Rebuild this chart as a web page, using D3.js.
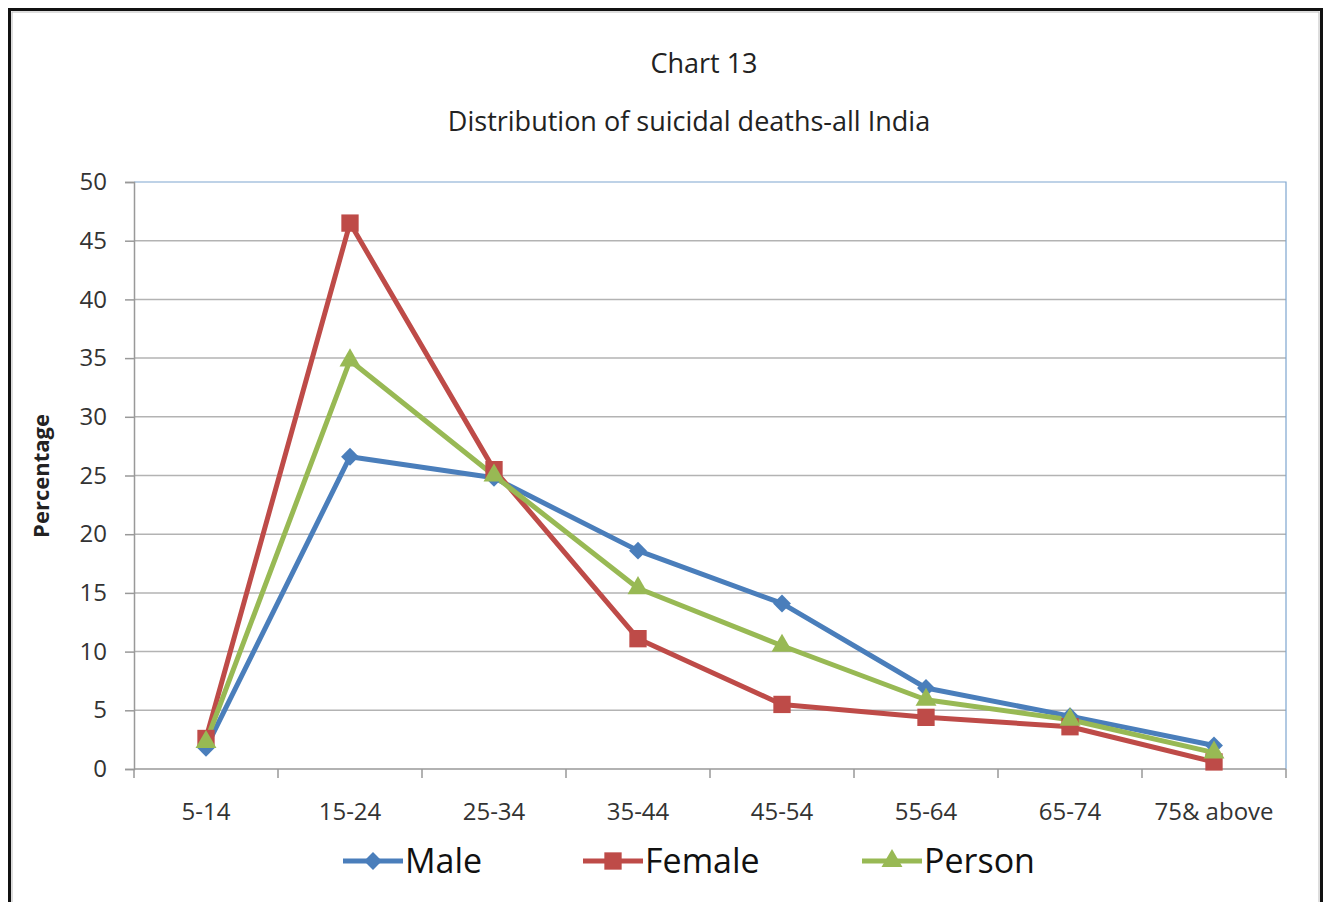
<!DOCTYPE html>
<html>
<head>
<meta charset="utf-8">
<script src="https://cdn.jsdelivr.net/npm/d3@7"></script>
<style>
  body { margin: 0; background: #fff; }
  svg { display: block; font-family: "Open Sans", sans-serif; }
</style>
</head>
<body>
<svg id="chart"></svg>
<script>
var categories = ["5-14", "15-24", "25-34", "35-44", "45-54", "55-64", "65-74", "75& above"];
var male   = [1.8, 26.6, 24.8, 18.6, 14.1, 6.9, 4.5, 2.0];
var female = [2.6, 46.5, 25.5, 11.1, 5.5, 4.4, 3.6, 0.6];
var person = [2.3, 34.8, 25.0, 15.4, 10.5, 5.9, 4.2, 1.4];
var yTicks = [0, 5, 10, 15, 20, 25, 30, 35, 40, 45, 50];

// diamond = square turned 45 degrees
var series = [
  { name: "Male",   values: male,   color: "#4a7ebb", symbol: d3.symbolSquare,   size: 160, rot: 45 },
  { name: "Female", values: female, color: "#be4b48", symbol: d3.symbolSquare,   size: 300, rot: 0 },
  { name: "Person", values: person, color: "#98b954", symbol: d3.symbolTriangle, size: 190, rot: 0 }
];

var W = 1325, H = 902;
var m = { left: 134, right: 39, top: 182, bottom: 133 };

var svg = d3.select("svg#chart").attr("width", W).attr("height", H);

// outer frame
svg.append("rect")
  .attr("x", 9.5).attr("y", 9.5).attr("width", 1312).attr("height", 900)
  .attr("fill", "none").attr("stroke", "#111").attr("stroke-width", 3);
svg.append("rect")
  .attr("x", 12).attr("y", 12).attr("width", 1307).attr("height", 900)
  .attr("fill", "none").attr("stroke", "#bbb").attr("stroke-width", 1);

var x = d3.scaleBand().domain(categories).range([m.left, W - m.right]);
var y = d3.scaleLinear().domain([0, 50]).range([H - m.bottom, m.top]);

// gridlines
svg.append("g").selectAll("line").data(yTicks.slice(1, -1)).enter()
  .append("line")
  .attr("x1", m.left).attr("x2", W - m.right)
  .attr("y1", function(d) { return y(d); }).attr("y2", function(d) { return y(d); })
  .attr("stroke", "#b3b3b3").attr("stroke-width", 1.5);

// plot border top/right (blue)
svg.append("path")
  .attr("d", "M" + m.left + "," + y(50) + "H" + (W - m.right) + "V" + y(0))
  .attr("fill", "none").attr("stroke", "#7ea6cf").attr("stroke-width", 1.2);

// y axis
var yAxis = svg.append("g")
  .attr("transform", "translate(" + m.left + ",0)")
  .call(d3.axisLeft(y).tickValues(yTicks).tickSize(9).tickPadding(18));
yAxis.selectAll("line").attr("stroke", "#999").attr("stroke-width", 1.5);
yAxis.select(".domain").attr("stroke", "#999").attr("stroke-width", 1.5);
yAxis.selectAll("text").attr("font-size", 24).attr("fill", "#333")
  .attr("font-family", "'Open Sans', sans-serif");

// x axis (ticks between categories)
var xAxisG = svg.append("g").attr("transform", "translate(0," + y(0) + ")");
xAxisG.append("line")
  .attr("x1", m.left).attr("x2", W - m.right)
  .attr("stroke", "#999").attr("stroke-width", 1.5);
var edges = categories.map(function(c) { return x(c); }).concat([W - m.right]);
xAxisG.selectAll("line.tk").data(edges).enter().append("line")
  .attr("class", "tk")
  .attr("x1", function(d) { return d; }).attr("x2", function(d) { return d; })
  .attr("y1", 0).attr("y2", 9)
  .attr("stroke", "#999").attr("stroke-width", 1.5);
xAxisG.selectAll("text").data(categories).enter().append("text")
  .attr("x", function(d) { return x(d) + x.bandwidth() / 2; })
  .attr("y", 51)
  .attr("text-anchor", "middle")
  .attr("font-size", 24).attr("fill", "#333")
  .text(function(d) { return d; });

// titles
svg.append("text").attr("x", 704).attr("y", 73).attr("text-anchor", "middle")
  .attr("font-size", 27).attr("fill", "#222").text("Chart 13");
svg.append("text").attr("x", 689).attr("y", 131).attr("text-anchor", "middle")
  .attr("font-size", 27).attr("fill", "#222").text("Distribution of suicidal deaths-all India");
svg.append("text")
  .attr("transform", "translate(49,476) rotate(-90)")
  .attr("text-anchor", "middle").attr("font-size", 22).attr("font-weight", "bold")
  .attr("fill", "#222").text("Percentage");

// lines and markers
var line = d3.line()
  .x(function(d, i) { return x(categories[i]) + x.bandwidth() / 2; })
  .y(function(d) { return y(d); });

series.forEach(function(s) {
  svg.append("path")
    .attr("d", line(s.values))
    .attr("fill", "none").attr("stroke", s.color)
    .attr("stroke-width", 5).attr("stroke-linejoin", "round");
});
series.forEach(function(s) {
  svg.append("g").selectAll("path").data(s.values).enter().append("path")
    .attr("d", d3.symbol().type(s.symbol).size(s.size))
    .attr("transform", function(d, i) {
      return "translate(" + (x(categories[i]) + x.bandwidth() / 2) + "," + y(d) + ") rotate(" + s.rot + ")";
    })
    .attr("fill", s.color);
});

// legend
var legendX = [343, 583, 862];
var lg = svg.append("g").selectAll("g").data(series).enter().append("g")
  .attr("transform", function(d, i) { return "translate(" + legendX[i] + ",861)"; });
lg.append("line").attr("x1", 0).attr("x2", 60)
  .attr("stroke", function(d) { return d.color; }).attr("stroke-width", 5);
lg.append("path")
  .attr("d", function(d) { return d3.symbol().type(d.symbol).size(d.size)(); })
  .attr("transform", function(d) { return "translate(30,0) rotate(" + d.rot + ")"; })
  .attr("fill", function(d) { return d.color; });
lg.append("text").attr("x", 62).attr("y", 12)
  .attr("font-size", 34).attr("fill", "#111")
  .text(function(d) { return d.name; });
</script>
</body>
</html>
